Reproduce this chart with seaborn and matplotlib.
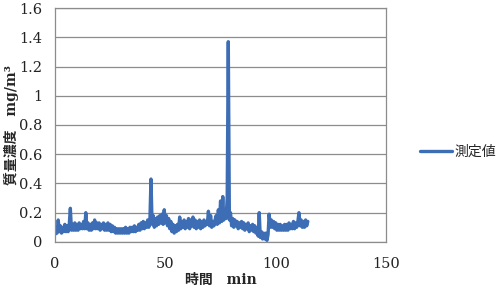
import numpy as np
import pandas as pd
import matplotlib
matplotlib.use("Agg")
import matplotlib.pyplot as plt
import seaborn as sns

# time step 0.5 min (mg/m3)
time_start = 0.0
time_step = 0.5
values = [
    0.05, 0.10, 0.06, 0.15, 0.07, 0.11, 0.06, 0.10, 0.07, 0.12,
    0.07, 0.11, 0.07, 0.12, 0.23, 0.08, 0.12, 0.08, 0.13, 0.08,
    0.12, 0.08, 0.13, 0.09, 0.12, 0.09, 0.14, 0.09, 0.20, 0.09,
    0.13, 0.08, 0.12, 0.08, 0.13, 0.09, 0.15, 0.09, 0.13, 0.09,
    0.13, 0.08, 0.12, 0.09, 0.13, 0.08, 0.12, 0.08, 0.13, 0.08,
    0.12, 0.07, 0.11, 0.07, 0.10, 0.06, 0.09, 0.06, 0.09, 0.06,
    0.09, 0.06, 0.09, 0.06, 0.10, 0.06, 0.09, 0.06, 0.10, 0.07,
    0.10, 0.07, 0.11, 0.07, 0.10, 0.08, 0.12, 0.08, 0.13, 0.09,
    0.14, 0.09, 0.13, 0.10, 0.15, 0.10, 0.14, 0.43, 0.12, 0.18,
    0.10, 0.16, 0.11, 0.17, 0.12, 0.18, 0.13, 0.19, 0.12, 0.22,
    0.13, 0.18, 0.11, 0.16, 0.09, 0.14, 0.07, 0.12, 0.06, 0.11,
    0.07, 0.12, 0.08, 0.17, 0.09, 0.14, 0.10, 0.15, 0.09, 0.14,
    0.10, 0.16, 0.09, 0.15, 0.11, 0.17, 0.10, 0.15, 0.09, 0.14,
    0.10, 0.15, 0.09, 0.14, 0.10, 0.15, 0.11, 0.14, 0.12, 0.21,
    0.11, 0.18, 0.10, 0.14, 0.11, 0.15, 0.18, 0.12, 0.22, 0.13,
    0.28, 0.14, 0.31, 0.15, 0.22, 0.16, 0.30, 1.37, 0.15, 0.20,
    0.11, 0.16, 0.10, 0.15, 0.11, 0.14, 0.09, 0.13, 0.10, 0.14,
    0.09, 0.13, 0.08, 0.12, 0.09, 0.13, 0.07, 0.11, 0.08, 0.12,
    0.07, 0.11, 0.06, 0.09, 0.04, 0.20, 0.03, 0.07, 0.02, 0.06,
    0.02, 0.06, 0.01, 0.05, 0.19, 0.10, 0.15, 0.10, 0.14, 0.09,
    0.13, 0.08, 0.12, 0.08, 0.12, 0.08, 0.11, 0.08, 0.12, 0.08,
    0.12, 0.08, 0.13, 0.09, 0.12, 0.09, 0.14, 0.09, 0.13, 0.10,
    0.14, 0.20, 0.11, 0.15, 0.10, 0.14, 0.10, 0.15, 0.11, 0.14,
]
times = [time_start + i * time_step for i in range(len(values))]
series_name = "測定値"
x_ticks = [0, 50, 100, 150]
y_ticks = [0, 0.2, 0.4, 0.6, 0.8, 1.0, 1.2, 1.4, 1.6]
y_tick_labels = ["0", "0.2", "0.4", "0.6", "0.8", "1", "1.2", "1.4", "1.6"]

df = pd.DataFrame({"time": times, "value": values, "series": series_name})

sns.set_style("white")
plt.rcParams['font.family'] = ['DejaVu Serif', 'Noto Sans CJK JP']

fig = plt.figure(figsize=(4.99, 2.89), dpi=100)
ax = fig.add_axes([0.110, 0.163, 0.664, 0.809])

sns.lineplot(data=df, x="time", y="value", hue="series", palette=["#3D6DB5"],
             linewidth=2.4, ax=ax, legend=True)

ax.set_xlim(0, 150)
ax.set_ylim(0, 1.6)
ax.set_xticks(x_ticks)
ax.set_xticklabels([str(t) for t in x_ticks])
ax.set_yticks(y_ticks)
ax.set_yticklabels(y_tick_labels)
ax.tick_params(axis="y", length=0, labelsize=10.5, colors="#222222", pad=9)
ax.tick_params(axis="x", length=0, labelsize=10.5, colors="#222222", pad=11)
ax.yaxis.grid(True, color="#8c8c8c", linewidth=0.9)
ax.xaxis.grid(False)
for s in ax.spines.values():
    s.set_color("#8c8c8c")
    s.set_linewidth(0.9)

ax.set_xlabel("時間　min", fontsize=10, fontweight="bold",
              family=['DejaVu Serif', 'Noto Sans CJK JP'], va="center")
ax.xaxis.set_label_coords(0.5, -0.163)
ax.set_ylabel("質量濃度　mg/m³", fontsize=10, fontweight="bold",
              family=['DejaVu Serif', 'Noto Sans CJK JP'], va="center")
ax.yaxis.set_label_coords(-0.130, 0.5)

handles, labels = ax.get_legend_handles_labels()
ax.legend(handles, labels, loc="center left", bbox_to_anchor=(0.842, 0.475),
          bbox_transform=fig.transFigure, frameon=False, handlelength=2.3,
          handletextpad=0.2, borderpad=0, borderaxespad=0,
          prop={"family": ['Noto Sans CJK JP'], "size": 10})

fig.savefig("out.png", dpi=100)
